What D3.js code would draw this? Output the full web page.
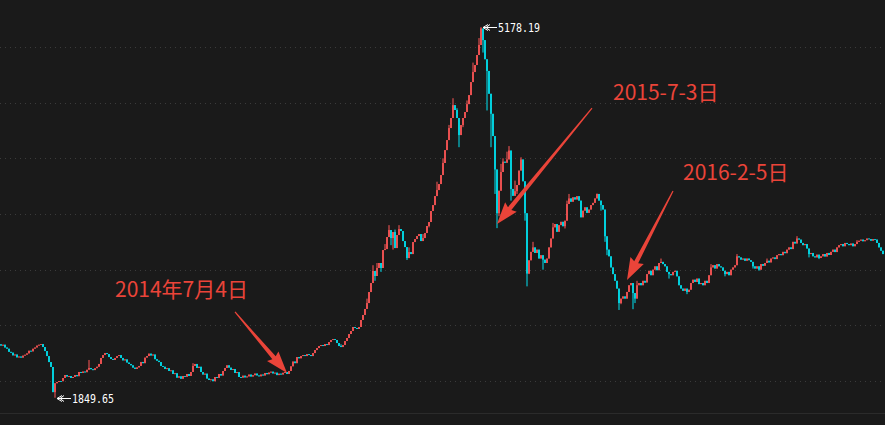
<!DOCTYPE html>
<html><head><meta charset="utf-8">
<script src="https://cdn.jsdelivr.net/npm/d3@7/dist/d3.min.js"></script>
<style>html,body{margin:0;padding:0;background:#1a1a1a;overflow:hidden}</style>
</head><body><svg id="c" width="885" height="425"></svg>
<script>
// Daily closes (about two trading days per bar), 2013-03 .. 2017-05, SSE Composite
const closes = [
2318,2326,2301,2290,2262,2255,2230,2238,2212,2220,
2210,2228,2236,2248,2272,2266,2290,2301,2318,2326,
2332,2305,2269,2224,2170,2126,1900,1980,1991,2000,
1998,2027,2054,2040,2045,2027,2036,2054,2043,2081,
2072,2085,2079,2101,2117,2106,2098,2115,2128,2153,
2207,2233,2251,2242,2215,2198,2189,2207,2224,2233,
2207,2185,2194,2166,2153,2141,2120,2108,2122,2135,
2171,2160,2210,2224,2246,2229,2238,2196,2182,2170,
2135,2128,2108,2115,2090,2096,2063,2070,2030,2042,
2020,2045,2038,2063,2045,2081,2135,2153,2117,2128,
2081,2058,2066,2022,2009,2015,1998,2036,2028,2063,
2049,2090,2117,2141,2120,2099,2108,2072,2080,2036,
2030,2048,2032,2041,2058,2040,2052,2067,2050,2042,
2058,2049,2072,2061,2076,2084,2068,2075,2053,2066,
2058,2074,2081,2063,2090,2132,2175,2160,2215,2204,
2224,2233,2224,2242,2233,2224,2251,2278,2296,2314,
2323,2314,2332,2323,2350,2368,2377,2368,2341,2314,
2305,2323,2359,2386,2422,2449,2485,2476,2467,2485,
2548,2593,2647,2700,2799,2880,2988,2943,3015,3060,
3015,3176,3185,3293,3356,3284,3338,3194,3311,3365,
3347,3257,3203,3104,3158,3140,3248,3275,3302,3320,
3257,3284,3329,3392,3428,3527,3580,3661,3715,3769,
3850,3958,4074,4164,4272,4362,4478,4434,4362,4209,
4299,4362,4416,4487,4568,4685,4775,4838,4928,5018,
5166,5062,4890,4785,4580,4400,4200,3900,3507,3709,
3877,3970,3960,3990,4070,3725,3663,3705,3760,3890,
3990,3794,3507,2965,3084,3160,3200,3150,3180,3100,
3130,3090,3060,3100,3200,3280,3380,3410,3340,3400,
3430,3390,3440,3590,3640,3610,3650,3630,3660,3620,
3470,3530,3560,3510,3540,3580,3600,3640,3680,3620,
3580,3540,3300,3180,3120,3020,2960,2900,2830,2700,
2740,2760,2740,2800,2860,2880,2790,2740,2860,2880,
2860,2900,2885,2960,2990,2950,3000,3030,2995,3060,
3070,3050,3030,2980,2960,2950,2980,2990,2940,2860,
2830,2810,2830,2800,2820,2880,2910,2890,2920,2870,
2880,2860,2900,2880,2950,3020,3040,3010,3050,3030,
3020,2990,2960,2980,2950,3000,3020,3040,3120,3110,
3090,3100,3080,3100,3085,3070,3030,3010,3030,3000,
3050,3035,3060,3080,3065,3100,3110,3095,3130,3140,
3130,3160,3148,3180,3200,3185,3250,3235,3280,3270,
3240,3220,3230,3190,3140,3150,3120,3110,3135,3105,
3120,3140,3118,3150,3132,3160,3180,3158,3200,3220,
3230,3210,3240,3230,3220,3235,3210,3230,3250,3260,
3270,3255,3265,3280,3275,3260,3275,3270,3240,3200,3170,3140
];
const firstOpen = 2330;
// notable wick extremes by bar index
const spikeHighIdx = [44, 96, 170, 183, 186, 188, 192, 194, 197, 199, 204, 211, 218, 221, 224, 226, 228, 233, 236, 239,
  240, 242, 244, 246, 250, 251, 253, 254, 257, 260, 261, 266, 276, 283, 284, 290, 298, 305, 318, 330, 355, 368, 383, 398, 428];
const spikeHighVal = [2189, 2160, 2330, 2740, 3040, 3060, 3230, 3400, 3360, 3400, 3200, 3320, 3790, 4000, 4300, 4540, 4450, 4520, 4860, 5080,
  5178.19, 5000, 4700, 4280, 3950, 4000, 4060, 4110, 3800, 4010, 3980, 3250, 3420, 3620, 3680, 3560, 3684, 3080, 2900, 3100, 3050, 3140, 3100, 3301, 3265];
const spikeLowIdx = [27, 184, 187, 190, 195, 196, 203, 214, 220, 223, 229, 231, 241, 243, 245, 247, 248, 249, 255, 258,
  262, 263, 264, 271, 282, 300, 302, 303, 309, 310, 316, 317, 322, 334, 343, 362, 376, 379, 404, 409];
const spikeLowVal = [1849.65, 2720, 2900, 2980, 3220, 3180, 3087, 3380, 3780, 4080, 4100, 4280, 4950, 4430, 4100, 3680, 3373, 3480, 3620, 3680,
  3440, 2850, 2960, 3000, 3370, 3530, 3250, 3130, 2638, 2690, 2645, 2700, 2880, 2920, 2780, 2940, 3010, 2990, 3110, 3095];
const gridTicks = [2000, 2500, 3000, 3500, 4000, 4500, 5000];
// annotations: label, bar index, price at arrow tip
const noteLabels = ["2014年7月4日", "2015-7-3日", "2016-2-5日"];
const noteIdx = [143, 248, 313];
const notePrice = [2072, 3410, 2907];

const W = 885, H = 425;
const svg = d3.select("#c");
svg.append("rect").attr("width", W).attr("height", H).attr("fill", "#1a1a1a");

const bars = closes.map((c, i) => {
  const o = i === 0 ? firstOpen : closes[i - 1];
  let h = Math.max(o, c), l = Math.min(o, c);
  const hi = spikeHighIdx.indexOf(i); if (hi >= 0) h = Math.max(h, spikeHighVal[hi]);
  const li = spikeLowIdx.indexOf(i); if (li >= 0) l = Math.min(l, spikeLowVal[li]);
  return {i, o, c, h, l};
});

const x = d3.scaleBand().domain(bars.map(d => d.i)).range([0, closes.length * 2]).padding(0);
const y = d3.scaleLinear().domain([2000, 5000]).range([381, 47]);

// grid
svg.append("g").selectAll("line").data(gridTicks).join("line")
  .attr("x1", 0).attr("x2", W).attr("y1", d => Math.round(y(d)) + 0.5).attr("y2", d => Math.round(y(d)) + 0.5)
  .attr("stroke", "#3b3b3b").attr("stroke-dasharray", "1,4");
svg.append("line").attr("x1", 0).attr("x2", W).attr("y1", 413.5).attr("y2", 413.5)
  .attr("stroke", "#2b2b2b").attr("stroke-width", 1);

const up = "#ff5656", down = "#00e3f2";
const col = d => d.c >= d.o ? up : down;
const cx = d => x(d.i) + x.bandwidth() / 2;
const g = svg.append("g");
g.selectAll("line").data(bars).join("line")
  .attr("x1", cx).attr("x2", cx).attr("y1", d => y(d.h)).attr("y2", d => y(d.l))
  .attr("stroke", col).attr("stroke-width", 1);
g.selectAll("rect").data(bars).join("rect")
  .attr("x", d => x(d.i) + 0.2).attr("width", x.bandwidth() - 0.4)
  .attr("y", d => y(Math.max(d.o, d.c)))
  .attr("height", d => Math.max(1, Math.abs(y(d.o) - y(d.c))))
  .attr("fill", col);

// extreme labels
function extremeLabel(d, val, yy) {
  const tx = cx(d) + 2;
  const gg = svg.append("g").attr("stroke", "#ffffff").attr("stroke-width", 1).attr("fill", "none");
  gg.append("path").attr("d", `M${tx},${yy}L${tx + 14},${yy}M${tx + 5},${yy - 3}L${tx},${yy}L${tx + 5},${yy + 3}M${tx + 7},${yy - 3}L${tx + 3},${yy}L${tx + 7},${yy + 3}`);
  svg.append("text").attr("x", tx + 15).attr("y", yy + 4).attr("fill", "#ffffff")
    .attr("font-family", "DejaVu Sans Mono").attr("font-size", 11.5)
    .attr("textLength", 42).attr("lengthAdjust", "spacingAndGlyphs").text(val.toFixed(2));
}
const maxBar = bars.reduce((a, b) => b.h > a.h ? b : a);
const minBar = bars.reduce((a, b) => b.l < a.l ? b : a);
extremeLabel(maxBar, maxBar.h, Math.round(y(maxBar.h)) + 0.5);
extremeLabel(minBar, minBar.l, Math.round(y(minBar.l)) + 0.5);

// annotation arrows
const noteRed = "#ea4439";
const arrowStart = [[-52, -61], [95, -116], [46, -89]];
const textPos = [[115, 297], [613, 100], [683, 180]];
function arrow(x0, y0, x1, y1) {
  const dx = x1 - x0, dy = y1 - y0, len = Math.hypot(dx, dy);
  const ux = dx / len, uy = dy / len, nx = -uy, ny = ux;
  const hl = 20, hw = 7.5, sw0 = 0.6, sw1 = 2.2;
  const bx = x1 - ux * hl, by = y1 - uy * hl;
  const p = [
    [x0 + nx * sw0, y0 + ny * sw0],
    [bx + nx * sw1, by + ny * sw1],
    [bx + nx * hw - ux * 2, by + ny * hw - uy * 2],
    [x1, y1],
    [bx - nx * hw - ux * 2, by - ny * hw - uy * 2],
    [bx - nx * sw1, by - ny * sw1],
    [x0 - nx * sw0, y0 - ny * sw0]
  ];
  return "M" + p.map(q => q.join(",")).join("L") + "Z";
}
noteLabels.forEach((t, k) => {
  const tx = cx(bars[noteIdx[k]]), ty = y(notePrice[k]);
  svg.append("path").attr("d", arrow(tx + arrowStart[k][0], ty + arrowStart[k][1], tx, ty)).attr("fill", noteRed);
  svg.append("text").attr("x", textPos[k][0]).attr("y", textPos[k][1]).attr("fill", noteRed)
    .attr("font-family", "'Noto Sans CJK SC', 'Noto Sans', sans-serif").attr("font-size", 21).text(t);
});
</script></body></html>
